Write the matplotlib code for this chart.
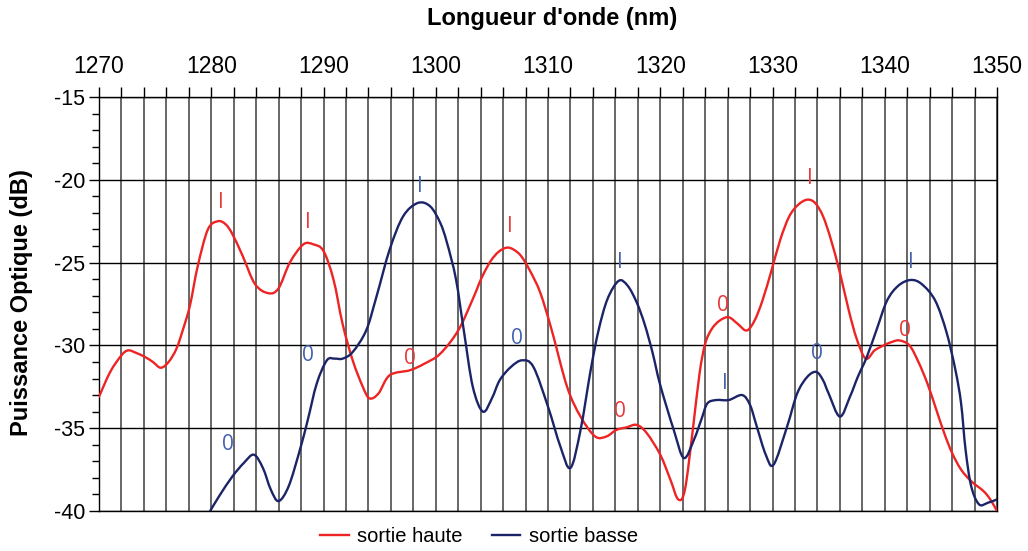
import matplotlib
matplotlib.use("Agg")
import matplotlib.pyplot as plt
from matplotlib.ticker import MultipleLocator
from matplotlib.path import Path
from matplotlib.patches import PathPatch
from matplotlib.lines import Line2D
import numpy as np

plt.rcParams['font.family'] = ['Liberation Sans', 'DejaVu Sans']
plt.rcParams['axes.unicode_minus'] = False

# Wavelength (nm) and optical power (dB) for the high output
haute_nm = [1270.0, 1271.0, 1272.0, 1272.6, 1273.3, 1274.1, 1274.8, 1275.5, 1276.2, 1276.9,
            1277.5, 1278.1, 1278.8, 1279.7, 1280.6, 1281.3, 1281.9, 1282.8, 1283.9, 1285.1,
            1286.0, 1287.0, 1288.2, 1289.1, 1290.0, 1290.9, 1291.7, 1292.6, 1293.5, 1294.1,
            1294.9, 1295.9, 1297.7, 1299.0, 1300.4, 1302.0, 1303.3, 1304.1, 1304.9, 1305.6,
            1306.3, 1306.9, 1307.6, 1308.4, 1309.3, 1310.3, 1311.7, 1312.9, 1314.2, 1315.2,
            1316.1, 1317.0, 1317.9, 1318.8, 1320.0, 1320.9, 1321.6, 1322.2, 1322.9, 1323.5,
            1324.0, 1324.6, 1325.3, 1326.1, 1326.9, 1327.7, 1328.4, 1329.1, 1329.9, 1330.7,
            1331.5, 1332.3, 1333.1, 1333.8, 1334.5, 1335.2, 1336.0, 1336.8, 1337.5, 1338.3,
            1339.1, 1339.9, 1340.6, 1341.3, 1342.2, 1343.0, 1343.8, 1344.6, 1345.3, 1346.0,
            1346.8, 1347.7, 1348.8, 1349.4, 1350.0]
haute_db = [-33.1, -31.6, -30.6, -30.3, -30.45, -30.7, -31.0, -31.35, -31.0, -30.2,
            -29.0, -27.6, -25.2, -23.0, -22.5, -22.7, -23.3, -24.6, -26.3, -26.85,
            -26.55, -25.0, -23.9, -23.9, -24.3, -26.05, -28.7, -30.9, -32.5, -33.2,
            -32.9, -31.8, -31.5, -31.1, -30.5, -29.1, -27.2, -25.9, -24.9, -24.35,
            -24.1, -24.2, -24.6, -25.5, -26.8, -29.0, -32.5, -34.3, -35.5, -35.5,
            -35.1, -34.95, -34.8, -35.3, -36.6, -38.1, -39.3, -38.7, -35.1, -31.7,
            -29.9, -29.0, -28.5, -28.3, -28.7, -29.1, -28.5, -27.3, -25.5, -23.6,
            -22.2, -21.5, -21.2, -21.4, -22.2, -23.6, -25.6, -27.9, -29.6, -30.8,
            -30.3, -30.0, -29.8, -29.7, -30.0, -31.0, -32.3, -33.9, -35.3, -36.5,
            -37.5, -38.2, -38.8, -39.3, -40.0]

# Wavelength (nm) and optical power (dB) for the low output
basse_nm = [1279.9, 1280.8, 1281.9, 1282.9, 1283.8, 1284.6, 1285.3, 1286.0, 1286.9, 1287.9,
            1288.6, 1289.4, 1290.3, 1291.0, 1291.7, 1292.6, 1293.8, 1294.7, 1295.9, 1297.1,
            1298.4, 1299.5, 1300.4, 1301.0, 1301.8, 1302.5, 1303.3, 1304.2, 1305.0, 1305.7,
            1306.7, 1307.7, 1308.7, 1310.0, 1311.1, 1312.0, 1312.9, 1313.8, 1314.5, 1315.3,
            1316.3, 1317.1, 1317.9, 1318.6, 1319.3, 1320.0, 1321.2, 1322.1, 1323.0, 1323.7,
            1324.2, 1325.0, 1326.1, 1327.3, 1328.0, 1328.6, 1329.4, 1330.1, 1331.3, 1332.2,
            1333.1, 1333.9, 1334.5, 1335.0, 1336.0, 1336.9, 1337.6, 1338.4, 1339.3, 1340.2,
            1341.2, 1342.3, 1343.3, 1344.5, 1345.5, 1346.3, 1346.8, 1347.2, 1347.7, 1348.4,
            1349.2, 1350.0]
basse_db = [-40.0, -39.0, -37.9, -37.1, -36.6, -37.4, -38.7, -39.4, -38.5, -36.3,
            -34.5, -32.3, -30.9, -30.8, -30.8, -30.4, -29.1, -27.1, -24.2, -22.2,
            -21.4, -21.6, -22.6, -23.8, -26.0, -29.1, -32.5, -34.0, -33.2, -32.1,
            -31.3, -30.9, -31.3, -33.7, -36.1, -37.4, -35.1, -31.5, -29.1, -27.2,
            -26.1, -26.4, -27.4, -28.7, -30.4, -32.4, -35.1, -36.8, -35.7, -34.4,
            -33.5, -33.3, -33.3, -33.0, -33.6, -34.9, -36.6, -37.2, -34.9, -32.9,
            -31.9, -31.6, -32.1, -32.9, -34.3, -33.1, -31.9, -30.7, -29.0, -27.3,
            -26.4, -26.05, -26.3, -27.3, -29.2, -31.5, -33.5, -36.3, -38.5, -39.6,
            -39.5, -39.3]

# Bit annotations ("I" / "0") placed above each lobe
haute_lab = ["I", "I", "I", "I", "0", "0", "0", "0"]
haute_lab_nm = [1280.9, 1288.6, 1306.6, 1333.3, 1297.7, 1316.4, 1325.6, 1341.8]
haute_lab_db = [-21.4, -22.55, -22.85, -19.9, -30.8, -34.0, -27.6, -29.1]

basse_lab = ["I", "I", "I", "I", "0", "0", "0", "0"]
basse_lab_nm = [1298.6, 1316.4, 1325.8, 1342.3, 1281.5, 1288.6, 1307.2, 1334.0]
basse_lab_db = [-20.4, -25.0, -32.3, -25.0, -36.0, -30.6, -29.6, -30.5]

x_ticks = [1270, 1280, 1290, 1300, 1310, 1320, 1330, 1340, 1350]
y_ticks = [-15, -20, -25, -30, -35, -40]

RED = '#ee2424'
NAVY = '#1c2468'
RED_TXT = '#e8383a'
BLUE_TXT = '#4262ad'


def smooth_path(xs, ys):
    """Smoothed line through the points (Catmull-Rom segments as cubic Beziers)."""
    p = np.column_stack([xs, ys]).astype(float)
    n = len(p)
    verts = [p[0]]
    codes = [Path.MOVETO]
    for i in range(n - 1):
        p0 = p[i - 1] if i > 0 else p[i]
        p1 = p[i]
        p2 = p[i + 1]
        p3 = p[i + 2] if i + 2 < n else p[i + 1]
        c1 = p1 + (p2 - p0) / 6.0
        c2 = p2 - (p3 - p1) / 6.0
        verts += [c1, c2, p2]
        codes += [Path.CURVE4] * 3
    return Path(verts, codes)


fig = plt.figure(figsize=(10.28, 5.51), dpi=100)
ax = fig.add_axes([99 / 1028, 40 / 551, 898 / 1028, 414 / 551])

ax.set_xlim(1270, 1350)
ax.set_ylim(-40, -15)

# Grid: vertical every 2 nm, horizontal every 5 dB
ax.xaxis.set_major_locator(MultipleLocator(10))
ax.xaxis.set_minor_locator(MultipleLocator(2))
ax.yaxis.set_major_locator(MultipleLocator(5))
ax.yaxis.set_minor_locator(MultipleLocator(1))
ax.set_xticks(x_ticks)
ax.set_yticks(y_ticks)
ax.grid(True, axis='x', which='both', color='#454545', linewidth=1.15)
ax.grid(True, axis='y', which='major', color='black', linewidth=1.0)
ax.set_axisbelow(True)

ax.xaxis.tick_top()
ax.tick_params(axis='x', which='both', direction='out', length=7, width=1.0,
               colors='black', labelsize=16.5, pad=7, top=True, bottom=False)
ax.tick_params(axis='y', which='major', direction='out', length=7, width=1.0,
               labelsize=15.5, pad=3)
ax.tick_params(axis='y', which='minor', direction='out', length=5, width=1.0)

for side in ['top', 'left', 'bottom', 'right']:
    ax.spines[side].set_color('black')
    ax.spines[side].set_linewidth(1.0)

for xs, ys, col in [(haute_nm, haute_db, RED), (basse_nm, basse_db, NAVY)]:
    ax.add_patch(PathPatch(smooth_path(xs, ys), fill=False, edgecolor=col,
                           linewidth=1.7, capstyle='round', joinstyle='round',
                           transform=ax.transData, zorder=3))

for t, x, y in zip(haute_lab, haute_lab_nm, haute_lab_db):
    ax.text(x, y, t, color=RED_TXT, fontsize=15, family=['Open Sans', 'DejaVu Sans'],
            ha='center', va='center', zorder=4)
for t, x, y in zip(basse_lab, basse_lab_nm, basse_lab_db):
    ax.text(x, y, t, color=BLUE_TXT, fontsize=15, family=['Open Sans', 'DejaVu Sans'],
            ha='center', va='center', zorder=4)

fig.text(552 / 1028, 1 - 19 / 551, "Longueur d'onde (nm)", fontsize=17,
         fontweight='bold', ha='center', va='center')
fig.text(22 / 1028, 1 - 303 / 551, "Puissance Optique (dB)", fontsize=17,
         fontweight='bold', ha='center', va='center', rotation=90)

handles = [Line2D([], [], color=RED, linewidth=1.7),
           Line2D([], [], color=NAVY, linewidth=1.7)]
fig.legend(handles, ['sortie haute', 'sortie basse'], loc='center',
           bbox_to_anchor=(479 / 1028, 1 - 537 / 551), ncol=2,
           frameon=False, fontsize=14.5, handlelength=1.4, columnspacing=1.5,
           handletextpad=0.4)

fig.savefig('out.png', dpi=100)
